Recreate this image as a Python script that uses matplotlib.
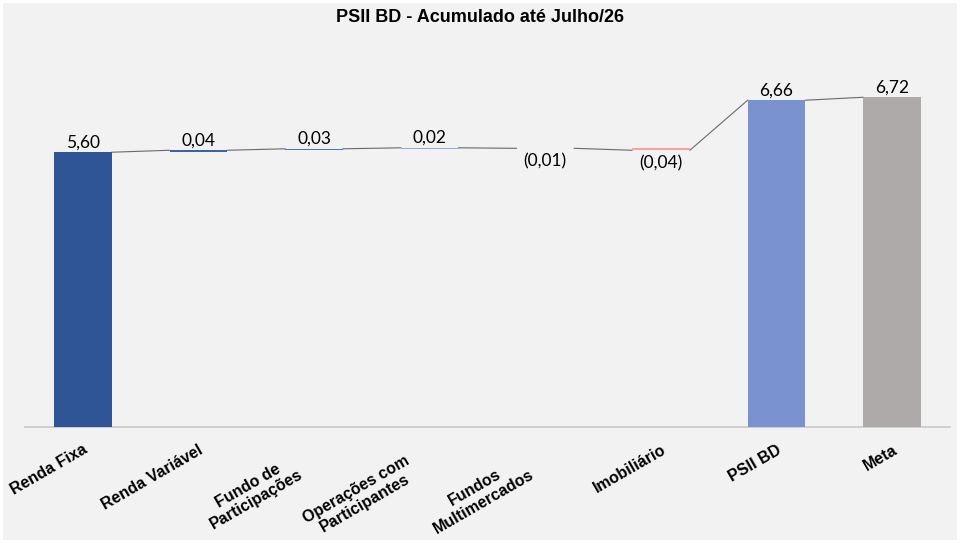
import matplotlib
matplotlib.use("Agg")
import matplotlib.pyplot as plt

# dados do gráfico (rentabilidade acumulada, %)
categorias = ["Renda Fixa", "Renda Variável", "Fundo de\nParticipações",
              "Operações com\nParticipantes", "Fundos\nMultimercados",
              "Imobiliário", "PSII BD", "Meta"]
valores = [5.60, 0.04, 0.03, 0.02, -0.01, -0.04, 6.66, 6.72]
total = [True, False, False, False, False, False, True, True]
cores = ["#2f5597", "#3b62ad", "#4a76c6", "#8eaadb", "#ffffff",
         "#ff9f9f", "#7a92cf", "#aeaaaa"]

# base e fim de cada barra (cascata)
bases, fins = [], []
acum = 0.0
for v, t in zip(valores, total):
    if t:
        bases.append(0.0)
        acum = v
    else:
        bases.append(acum if v > 0 else acum + v)
        acum += v
    fins.append(acum)

fig = plt.figure(figsize=(9.6, 5.43), dpi=100)
fig.patch.set_facecolor("#f2f2f2")
fig.patch.set_edgecolor("white")
fig.patch.set_linewidth(3)

ax = fig.add_axes([25 / 960, 116 / 543, 925 / 960, 368 / 543])
ax.set_facecolor("#f2f2f2")

larg = 0.5
x = list(range(len(categorias)))
alturas = [abs(v) if not t else v for v, t in zip(valores, total)]
ax.bar(x, alturas, bottom=bases, width=larg, color=cores, zorder=3)

# linhas de ligação
for i in range(len(x) - 1):
    ax.plot([x[i] + larg / 2, x[i + 1] - larg / 2], [fins[i], fins[i + 1]],
            color="#6a6a6a", lw=0.8, zorder=2)

# rótulos de dados
for i, v in enumerate(valores):
    txt = f"{abs(v):.2f}".replace(".", ",")
    if v < 0:
        txt = "(" + txt + ")"
        ax.annotate(txt, (x[i], bases[i]), xytext=(0, -5), textcoords="offset pixels",
                    ha="center", va="top", fontsize=12.5, family="Lato", color="black")
    else:
        ax.annotate(txt, (x[i], bases[i] + alturas[i]), xytext=(0, 2),
                    textcoords="offset pixels", ha="center", va="bottom",
                    fontsize=12.5, family="Lato", color="black")

ax.set_xlim(-0.5, len(x) - 0.5)
ax.set_ylim(0, 7.5)
ax.set_yticks([])
ax.set_xticks([])
for s in ["top", "left", "right"]:
    ax.spines[s].set_visible(False)
ax.spines["bottom"].set_color("#cccccc")
ax.spines["bottom"].set_linewidth(1.3)

# rótulos do eixo x, girados
for i, c in enumerate(categorias):
    if "\n" in c:
        dx, dy = -25, -26
    else:
        dx, dy = 0, -15
    ax.annotate(c, (x[i], 0), xycoords=("data", "axes fraction"), xytext=(dx, dy),
                textcoords="offset pixels", ha="right", va="top", rotation=30,
                rotation_mode="anchor", multialignment="center", linespacing=1.12,
                fontsize=11.5, fontweight="bold", family="Liberation Sans")

fig.text(0.5, 1 - 17 / 543, "PSII BD - Acumulado até Julho/26", ha="center", va="center",
         fontsize=13, fontweight="bold", family="Liberation Sans")

fig.savefig("out.png", dpi=100, facecolor=fig.get_facecolor(), edgecolor=fig.get_edgecolor())
